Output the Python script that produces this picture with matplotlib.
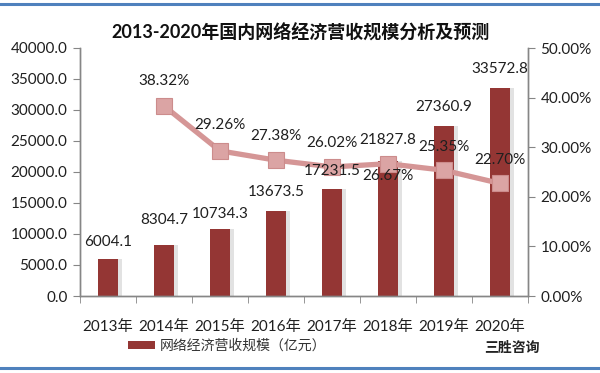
import matplotlib.pyplot as plt
import matplotlib.lines as mlines
from matplotlib.ticker import FuncFormatter, FixedLocator

plt.rcParams['font.family'] = ['Lato', 'Noto Sans CJK SC', 'DejaVu Sans']

years = ['2013年', '2014年', '2015年', '2016年', '2017年', '2018年', '2019年', '2020年']
revenue = [6004.1, 8304.7, 10734.3, 13673.5, 17231.5, 21827.8, 27360.9, 33572.8]
growth_years = [1, 2, 3, 4, 5, 6, 7]
growth = [38.32, 29.26, 27.38, 26.02, 26.67, 25.35, 22.70]

# label offsets in pixels (a few nudged like the original)
bar_dy = [17, 25, 15, 19, 18, 21, 19, 19]
line_dy = [25, 26, 24, 24, -12, 23, 23]

bar_color = '#943634'
line_color = '#D59696'
axis_color = '#868686'
text_color = '#1f1f1f'

fig = plt.figure(figsize=(6, 3.73), dpi=100)
ax = fig.add_axes([80/600, 1-296/373, 448/600, 248/373])
ax2 = ax.twinx()

x = list(range(len(years)))
# soft shadow behind bars
ax.bar([i + 0.06 for i in x], revenue, width=0.37, color='#d0d0d0', alpha=0.6, zorder=1)
ax.bar(x, revenue, width=0.37, color=bar_color, zorder=2, label='网络经济营收规模（亿元）')

ax.set_xlim(-0.5, 7.5)
ax.set_ylim(0, 40000)
ax.set_yticks(range(0, 40001, 5000))
ax.yaxis.set_major_formatter(FuncFormatter(lambda v, p: f'{v:.1f}'))
ax.set_xticks(x)
ax.set_xticklabels(years)
ax.xaxis.set_minor_locator(FixedLocator([i - 0.5 for i in range(len(years) + 1)]))
ax.tick_params(axis='x', which='major', length=0, pad=17, labelsize=11, colors=text_color)
ax.tick_params(axis='x', which='minor', length=5, color=axis_color, direction='out')
ax.tick_params(axis='y', length=5, color=axis_color, labelsize=11, labelcolor=text_color, pad=4)

ax2.set_ylim(0, 50)
ax2.set_yticks(range(0, 51, 10))
ax2.yaxis.set_major_formatter(FuncFormatter(lambda v, p: f'{v:.2f}%'))
ax2.tick_params(axis='y', length=5, color=axis_color, labelsize=11, labelcolor=text_color, pad=4)

for a in (ax, ax2):
    a.spines['top'].set_visible(False)
    for s in ('left', 'right', 'bottom'):
        a.spines[s].set_color(axis_color)
        a.spines[s].set_linewidth(1.0)
ax.patch.set_visible(False)
ax.set_zorder(ax2.get_zorder() - 1)
ax2.patch.set_visible(False)

ax2.plot(growth_years, growth, color=line_color, lw=3.8, marker='s', markersize=11,
         markerfacecolor='#DBA4A4', markeredgecolor='#CC8C8C', markeredgewidth=0.8, zorder=3)

for i, v in enumerate(revenue):
    ax2.annotate(f'{v:.1f}', (i, v / 800), xytext=(0, bar_dy[i]), textcoords='offset pixels',
                 ha='center', va='center', fontsize=11, color=text_color, zorder=5)
for xi, g, dy in zip(growth_years, growth, line_dy):
    ax2.annotate(f'{g:.2f}%', (xi, g), xytext=(0, dy), textcoords='offset pixels',
                 ha='center', va='center', fontsize=11, color=text_color, zorder=5)

fig.text(0.5, 1 - 32/373, '2013-2020年国内网络经济营收规模分析及预测', ha='center', va='center',
         fontsize=13, fontweight='bold', color='#111111')

handles, labels = ax.get_legend_handles_labels()
fig.legend(handles[-1:], labels[-1:], loc='center left', bbox_to_anchor=(128/600, 1 - 345/373),
           frameon=False, fontsize=10, handlelength=1.95, handleheight=0.45,
           handletextpad=0.35, borderpad=0, borderaxespad=0, labelcolor='#333333')
fig.text(540/600, 1 - 347/373, '三胜咨询', ha='right', va='center', fontsize=10,
         fontweight='bold', color='#222222')

# blue frame lines at top and bottom
for yy in (1 - 4/373, 1 - 368/373):
    fig.add_artist(mlines.Line2D([0, 1], [yy, yy], transform=fig.transFigure,
                                 color='#4F81BD', lw=2.2))

fig.savefig('out.png', dpi=100)
